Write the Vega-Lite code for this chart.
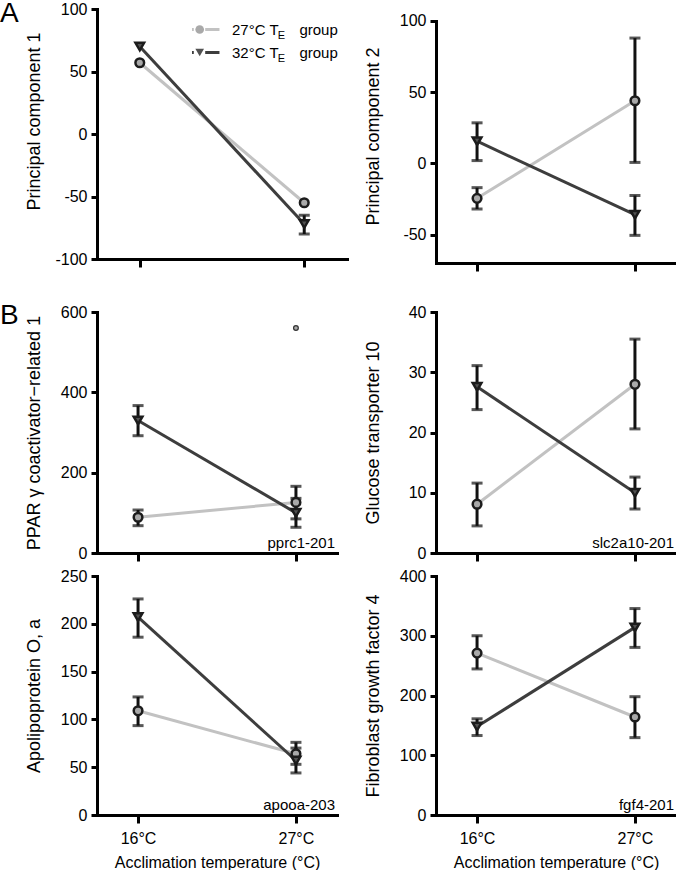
{
  "$schema": "https://vega.github.io/schema/vega-lite/v6.json",
  "background": "white",
  "padding": {"left": 0, "top": 0, "right": 0, "bottom": 0},
  "columns": 2,
  "spacing": {"row": 5, "column": 16},
  "bounds": "full",
  "config": {
    "view": {"stroke": null},
    "font": "Liberation Sans",
    "axis": {"domainColor": "#000", "domainWidth": 3, "domainCap": "square", "tickColor": "#000", "tickWidth": 3, "labelColor": "#000", "labelFontSize": 16, "labelFont": "Liberation Sans", "titleFont": "Liberation Sans", "titleColor": "#000", "titleFontWeight": "normal", "grid": false},
    "axisX": {"tickSize": 8, "titleFontSize": 16, "labelPadding": 7, "titlePadding": 8, "labelAngle": 0},
    "axisY": {"tickSize": 6, "labelPadding": 4, "titleFontSize": 18, "titleX": -54, "labelExpr": "replace(datum.label, '\u2212', '-')"},
    "title": {"fontSize": 28, "fontWeight": "normal", "anchor": "start", "frame": "group", "color": "#000", "offset": 0, "baseline": "alphabetic", "font": "Liberation Sans"}
  },
  "datasets": {
    "d": [
      {"p": "pc1", "g": "27°C TE group", "t": "16°C", "m": 57},
      {"p": "pc1", "g": "27°C TE group", "t": "27°C", "m": -55},
      {"p": "pc1", "g": "32°C TE group", "t": "16°C", "m": 70},
      {"p": "pc1", "g": "32°C TE group", "t": "27°C", "m": -72, "lo": -80, "hi": -65},
      {"p": "pc2", "g": "27°C TE group", "t": "16°C", "m": -24.5, "lo": -32, "hi": -17},
      {"p": "pc2", "g": "27°C TE group", "t": "27°C", "m": 44, "lo": 0.7, "hi": 88},
      {"p": "pc2", "g": "32°C TE group", "t": "16°C", "m": 15.6, "lo": 2, "hi": 28.5},
      {"p": "pc2", "g": "32°C TE group", "t": "27°C", "m": -36, "lo": -50.5, "hi": -22.5},
      {"p": "pprc1", "g": "27°C TE group", "t": "16°C", "m": 89, "lo": 68, "hi": 107},
      {"p": "pprc1", "g": "27°C TE group", "t": "27°C", "m": 126, "lo": 85, "hi": 166},
      {"p": "pprc1", "g": "32°C TE group", "t": "16°C", "m": 330, "lo": 292, "hi": 367},
      {"p": "pprc1", "g": "32°C TE group", "t": "27°C", "m": 100, "lo": 64, "hi": 136},
      {"p": "slc", "g": "27°C TE group", "t": "16°C", "m": 8.1, "lo": 4.5, "hi": 11.6},
      {"p": "slc", "g": "27°C TE group", "t": "27°C", "m": 28, "lo": 20.6, "hi": 35.5},
      {"p": "slc", "g": "32°C TE group", "t": "16°C", "m": 27.6, "lo": 23.8, "hi": 31.1},
      {"p": "slc", "g": "32°C TE group", "t": "27°C", "m": 10, "lo": 7.3, "hi": 12.6},
      {"p": "apooa", "g": "27°C TE group", "t": "16°C", "m": 109, "lo": 93.5, "hi": 123.5},
      {"p": "apooa", "g": "27°C TE group", "t": "27°C", "m": 64, "lo": 53, "hi": 76},
      {"p": "apooa", "g": "32°C TE group", "t": "16°C", "m": 207, "lo": 186, "hi": 226},
      {"p": "apooa", "g": "32°C TE group", "t": "27°C", "m": 57, "lo": 44, "hi": 70},
      {"p": "fgf4", "g": "27°C TE group", "t": "16°C", "m": 271, "lo": 244.5, "hi": 300},
      {"p": "fgf4", "g": "27°C TE group", "t": "27°C", "m": 164, "lo": 129.5, "hi": 198},
      {"p": "fgf4", "g": "32°C TE group", "t": "16°C", "m": 148, "lo": 133, "hi": 161},
      {"p": "fgf4", "g": "32°C TE group", "t": "27°C", "m": 314, "lo": 280.5, "hi": 345.5}
    ],
    "out": [
      {"p": "pprc1", "g": "27°C TE group", "t": "27°C", "m": 560}
    ]
  },
  "concat": [
    {
      "width": 250, "height": 250,
      "title": {"text": "A", "dx": -97, "dy": 31},
      "data": {"name": "d"},
      "encoding": {"x": {"field": "t", "type": "ordinal", "scale": {"type": "point", "domain": ["16°C", "27°C"], "padding": 0.26}, "axis": {"title": null, "labelColor": "transparent", "labelPadding": 10}}},
      "layer": [
        {"transform": [{"filter": "datum.p === 'pc1'"}], "mark": {"type": "line", "strokeWidth": 3},
         "encoding": {
           "y": {"field": "m", "type": "quantitative", "title": "Principal component 1", "scale": {"domain": [-100, 100], "nice": false, "zero": false}, "axis": {"values": [-100, -50, 0, 50, 100], "titleY": 112}},
           "stroke": {"field": "g", "type": "nominal", "scale": {"range": ["#c2c2c2", "#3d3d3d"]},
             "legend": {"orient": "none", "legendX": 95, "legendY": 9.3, "title": null, "symbolType": "M-3.33,0H-0.95M0.95,0H3.33", "symbolSize": 144, "symbolStrokeWidth": 3, "labelFontSize": 15, "labelColor": "#000", "labelFont": "Liberation Sans", "labelOffset": 25, "labelExpr": "replace(datum.label, 'TE', 'T\u00a0\u00a0\u00a0\u00a0')", "clipHeight": 22.4, "rowPadding": 0, "padding": 0}}}},
        {"transform": [{"filter": "datum.p === 'pc1' && isValid(datum.lo)"}], "mark": {"type": "rule", "strokeWidth": 3, "color": "#111"},
         "encoding": {"y": {"field": "lo", "type": "quantitative", "title": "Principal component 1", "scale": {"domain": [-100, 100], "nice": false, "zero": false}}, "y2": {"field": "hi"}}},
        {"transform": [{"filter": "datum.p === 'pc1' && isValid(datum.lo)"}], "mark": {"type": "tick", "orient": "horizontal", "size": 11, "thickness": 3, "color": "#111"},
         "encoding": {"y": {"field": "lo", "type": "quantitative", "title": "Principal component 1", "scale": {"domain": [-100, 100], "nice": false, "zero": false}}}},
        {"transform": [{"filter": "datum.p === 'pc1' && isValid(datum.lo)"}], "mark": {"type": "tick", "orient": "horizontal", "size": 11, "thickness": 3, "color": "#111"},
         "encoding": {"y": {"field": "hi", "type": "quantitative", "title": "Principal component 1", "scale": {"domain": [-100, 100], "nice": false, "zero": false}}}},
        {"transform": [{"filter": "datum.p === 'pc1'"}], "mark": {"type": "point", "filled": true, "size": 75, "stroke": "#1c1c1c", "strokeWidth": 2.5, "opacity": 1},
         "encoding": {
           "y": {"field": "m", "type": "quantitative", "title": "Principal component 1", "scale": {"domain": [-100, 100], "nice": false, "zero": false}},
           "shape": {"field": "g", "type": "nominal", "scale": {"domain": ["27°C TE group", "32°C TE group"], "range": ["circle", "triangle-down"]},
             "legend": {"orient": "none", "legendX": 96.7, "legendY": 9.3, "title": null, "symbolSize": 75, "symbolStrokeWidth": 2.5, "symbolStrokeColor": "#1c1c1c", "labelExpr": "'E'", "labelFontSize": 11, "labelColor": "#000", "labelFont": "Liberation Sans", "labelBaseline": "top", "labelOffset": 72, "clipHeight": 22.4, "rowPadding": 0, "padding": 0}},
           "fill": {"field": "g", "type": "nominal", "scale": {"domain": ["27°C TE group", "32°C TE group"], "range": ["#a9a9a9", "#525252"]}}}}
      ]
    },
    {
      "width": 240, "height": 254,
      "data": {"name": "d"},
      "encoding": {"x": {"field": "t", "type": "ordinal", "scale": {"type": "point", "domain": ["16°C", "27°C"], "padding": 0.26}, "axis": {"title": null, "labelColor": "transparent", "labelPadding": 10}}},
      "layer": [
        {"transform": [{"filter": "datum.p === 'pc2'"}], "mark": {"type": "line", "strokeWidth": 3},
         "encoding": {
           "y": {"field": "m", "type": "quantitative", "title": "Principal component 2", "scale": {"domain": [-69.9, 108.4], "nice": false, "zero": false}, "axis": {"values": [-50, 0, 50, 100], "domainDash": [242, 100]}},
           "stroke": {"field": "g", "type": "nominal", "legend": null}}},
        {"transform": [{"filter": "datum.p === 'pc2' && isValid(datum.lo)"}], "mark": {"type": "rule", "strokeWidth": 3, "color": "#111"},
         "encoding": {"y": {"field": "lo", "type": "quantitative", "title": "Principal component 2", "scale": {"domain": [-69.9, 108.4], "nice": false, "zero": false}}, "y2": {"field": "hi"}}},
        {"transform": [{"filter": "datum.p === 'pc2' && isValid(datum.lo)"}], "mark": {"type": "tick", "orient": "horizontal", "size": 11, "thickness": 3, "color": "#111"},
         "encoding": {"y": {"field": "lo", "type": "quantitative", "title": "Principal component 2", "scale": {"domain": [-69.9, 108.4], "nice": false, "zero": false}}}},
        {"transform": [{"filter": "datum.p === 'pc2' && isValid(datum.lo)"}], "mark": {"type": "tick", "orient": "horizontal", "size": 11, "thickness": 3, "color": "#111"},
         "encoding": {"y": {"field": "hi", "type": "quantitative", "title": "Principal component 2", "scale": {"domain": [-69.9, 108.4], "nice": false, "zero": false}}}},
        {"transform": [{"filter": "datum.p === 'pc2'"}], "mark": {"type": "point", "filled": true, "size": 75, "stroke": "#1c1c1c", "strokeWidth": 2.5, "opacity": 1},
         "encoding": {
           "y": {"field": "m", "type": "quantitative", "title": "Principal component 2", "scale": {"domain": [-69.9, 108.4], "nice": false, "zero": false}},
           "shape": {"field": "g", "type": "nominal", "legend": null},
           "fill": {"field": "g", "type": "nominal", "legend": null}}}
      ]
    },
    {
      "width": 240, "height": 241,
      "title": {"text": "B", "dx": -97, "dy": 30},
      "data": {"name": "d"},
      "encoding": {"x": {"field": "t", "type": "ordinal", "scale": {"type": "point", "domain": ["16°C", "27°C"], "padding": 0.26}, "axis": {"title": null, "labels": false}}},
      "layer": [
        {"transform": [{"filter": "datum.p === 'pprc1'"}], "mark": {"type": "line", "strokeWidth": 3},
         "encoding": {
           "y": {"field": "m", "type": "quantitative", "title": "PPAR γ coactivator−related 1", "scale": {"domain": [0, 600], "nice": false}, "axis": {"values": [0, 200, 400, 600]}},
           "stroke": {"field": "g", "type": "nominal", "legend": null}}},
        {"transform": [{"filter": "datum.p === 'pprc1' && isValid(datum.lo)"}], "mark": {"type": "rule", "strokeWidth": 3, "color": "#111"},
         "encoding": {"y": {"field": "lo", "type": "quantitative", "title": "PPAR γ coactivator−related 1", "scale": {"domain": [0, 600], "nice": false}}, "y2": {"field": "hi"}}},
        {"transform": [{"filter": "datum.p === 'pprc1' && isValid(datum.lo)"}], "mark": {"type": "tick", "orient": "horizontal", "size": 11, "thickness": 3, "color": "#111"},
         "encoding": {"y": {"field": "lo", "type": "quantitative", "title": "PPAR γ coactivator−related 1", "scale": {"domain": [0, 600], "nice": false}}}},
        {"transform": [{"filter": "datum.p === 'pprc1' && isValid(datum.lo)"}], "mark": {"type": "tick", "orient": "horizontal", "size": 11, "thickness": 3, "color": "#111"},
         "encoding": {"y": {"field": "hi", "type": "quantitative", "title": "PPAR γ coactivator−related 1", "scale": {"domain": [0, 600], "nice": false}}}},
        {"transform": [{"filter": "datum.p === 'pprc1'"}], "mark": {"type": "point", "filled": true, "size": 75, "stroke": "#1c1c1c", "strokeWidth": 2.5, "opacity": 1},
         "encoding": {
           "y": {"field": "m", "type": "quantitative", "title": "PPAR γ coactivator−related 1", "scale": {"domain": [0, 600], "nice": false}},
           "shape": {"field": "g", "type": "nominal", "legend": null},
           "fill": {"field": "g", "type": "nominal", "legend": null}}},
        {"data": {"name": "out"}, "mark": {"type": "point", "filled": true, "size": 22, "fill": "#a9a9a9", "stroke": "#333", "strokeWidth": 1.3, "opacity": 1},
         "encoding": {"y": {"field": "m", "type": "quantitative", "title": "PPAR γ coactivator−related 1", "scale": {"domain": [0, 600], "nice": false}}}},
        {"data": {"values": [{"label": "pprc1-201"}]}, "mark": {"type": "text", "align": "right", "baseline": "alphabetic", "fontSize": 15, "dx": -2, "dy": -5, "color": "#000"},
         "encoding": {"text": {"field": "label"}, "x": {"value": "width"}, "y": {"value": "height"}}}
      ]
    },
    {
      "width": 240, "height": 241,
      "data": {"name": "d"},
      "encoding": {"x": {"field": "t", "type": "ordinal", "scale": {"type": "point", "domain": ["16°C", "27°C"], "padding": 0.26}, "axis": {"title": null, "labels": false}}},
      "layer": [
        {"transform": [{"filter": "datum.p === 'slc'"}], "mark": {"type": "line", "strokeWidth": 3},
         "encoding": {
           "y": {"field": "m", "type": "quantitative", "title": "Glucose transporter 10", "scale": {"domain": [0, 40], "nice": false}, "axis": {"values": [0, 10, 20, 30, 40]}},
           "stroke": {"field": "g", "type": "nominal", "legend": null}}},
        {"transform": [{"filter": "datum.p === 'slc' && isValid(datum.lo)"}], "mark": {"type": "rule", "strokeWidth": 3, "color": "#111"},
         "encoding": {"y": {"field": "lo", "type": "quantitative", "title": "Glucose transporter 10", "scale": {"domain": [0, 40], "nice": false}}, "y2": {"field": "hi"}}},
        {"transform": [{"filter": "datum.p === 'slc' && isValid(datum.lo)"}], "mark": {"type": "tick", "orient": "horizontal", "size": 11, "thickness": 3, "color": "#111"},
         "encoding": {"y": {"field": "lo", "type": "quantitative", "title": "Glucose transporter 10", "scale": {"domain": [0, 40], "nice": false}}}},
        {"transform": [{"filter": "datum.p === 'slc' && isValid(datum.lo)"}], "mark": {"type": "tick", "orient": "horizontal", "size": 11, "thickness": 3, "color": "#111"},
         "encoding": {"y": {"field": "hi", "type": "quantitative", "title": "Glucose transporter 10", "scale": {"domain": [0, 40], "nice": false}}}},
        {"transform": [{"filter": "datum.p === 'slc'"}], "mark": {"type": "point", "filled": true, "size": 75, "stroke": "#1c1c1c", "strokeWidth": 2.5, "opacity": 1},
         "encoding": {
           "y": {"field": "m", "type": "quantitative", "title": "Glucose transporter 10", "scale": {"domain": [0, 40], "nice": false}},
           "shape": {"field": "g", "type": "nominal", "legend": null},
           "fill": {"field": "g", "type": "nominal", "legend": null}}},
        {"data": {"values": [{"label": "slc2a10-201"}]}, "mark": {"type": "text", "align": "right", "baseline": "alphabetic", "fontSize": 15, "dx": -2, "dy": -5, "color": "#000"},
         "encoding": {"text": {"field": "label"}, "x": {"value": "width"}, "y": {"value": "height"}}}
      ]
    },
    {
      "width": 240, "height": 239,
      "data": {"name": "d"},
      "encoding": {"x": {"field": "t", "type": "ordinal", "scale": {"type": "point", "domain": ["16°C", "27°C"], "padding": 0.26}, "axis": {"title": "Acclimation temperature (°C)"}}},
      "layer": [
        {"transform": [{"filter": "datum.p === 'apooa'"}], "mark": {"type": "line", "strokeWidth": 3},
         "encoding": {
           "y": {"field": "m", "type": "quantitative", "title": "Apolipoprotein O, a", "scale": {"domain": [0, 250], "nice": false}, "axis": {"values": [0, 50, 100, 150, 200, 250]}},
           "stroke": {"field": "g", "type": "nominal", "legend": null}}},
        {"transform": [{"filter": "datum.p === 'apooa' && isValid(datum.lo)"}], "mark": {"type": "rule", "strokeWidth": 3, "color": "#111"},
         "encoding": {"y": {"field": "lo", "type": "quantitative", "title": "Apolipoprotein O, a", "scale": {"domain": [0, 250], "nice": false}}, "y2": {"field": "hi"}}},
        {"transform": [{"filter": "datum.p === 'apooa' && isValid(datum.lo)"}], "mark": {"type": "tick", "orient": "horizontal", "size": 11, "thickness": 3, "color": "#111"},
         "encoding": {"y": {"field": "lo", "type": "quantitative", "title": "Apolipoprotein O, a", "scale": {"domain": [0, 250], "nice": false}}}},
        {"transform": [{"filter": "datum.p === 'apooa' && isValid(datum.lo)"}], "mark": {"type": "tick", "orient": "horizontal", "size": 11, "thickness": 3, "color": "#111"},
         "encoding": {"y": {"field": "hi", "type": "quantitative", "title": "Apolipoprotein O, a", "scale": {"domain": [0, 250], "nice": false}}}},
        {"transform": [{"filter": "datum.p === 'apooa'"}], "mark": {"type": "point", "filled": true, "size": 75, "stroke": "#1c1c1c", "strokeWidth": 2.5, "opacity": 1},
         "encoding": {
           "y": {"field": "m", "type": "quantitative", "title": "Apolipoprotein O, a", "scale": {"domain": [0, 250], "nice": false}},
           "shape": {"field": "g", "type": "nominal", "legend": null},
           "fill": {"field": "g", "type": "nominal", "legend": null}}},
        {"data": {"values": [{"label": "apooa-203"}]}, "mark": {"type": "text", "align": "right", "baseline": "alphabetic", "fontSize": 15, "dx": -2, "dy": -5, "color": "#000"},
         "encoding": {"text": {"field": "label"}, "x": {"value": "width"}, "y": {"value": "height"}}}
      ]
    },
    {
      "width": 240, "height": 239,
      "data": {"name": "d"},
      "encoding": {"x": {"field": "t", "type": "ordinal", "scale": {"type": "point", "domain": ["16°C", "27°C"], "padding": 0.26}, "axis": {"title": "Acclimation temperature (°C)"}}},
      "layer": [
        {"transform": [{"filter": "datum.p === 'fgf4'"}], "mark": {"type": "line", "strokeWidth": 3},
         "encoding": {
           "y": {"field": "m", "type": "quantitative", "title": "Fibroblast growth factor 4", "scale": {"domain": [0, 400], "nice": false}, "axis": {"values": [0, 100, 200, 300, 400]}},
           "stroke": {"field": "g", "type": "nominal", "legend": null}}},
        {"transform": [{"filter": "datum.p === 'fgf4' && isValid(datum.lo)"}], "mark": {"type": "rule", "strokeWidth": 3, "color": "#111"},
         "encoding": {"y": {"field": "lo", "type": "quantitative", "title": "Fibroblast growth factor 4", "scale": {"domain": [0, 400], "nice": false}}, "y2": {"field": "hi"}}},
        {"transform": [{"filter": "datum.p === 'fgf4' && isValid(datum.lo)"}], "mark": {"type": "tick", "orient": "horizontal", "size": 11, "thickness": 3, "color": "#111"},
         "encoding": {"y": {"field": "lo", "type": "quantitative", "title": "Fibroblast growth factor 4", "scale": {"domain": [0, 400], "nice": false}}}},
        {"transform": [{"filter": "datum.p === 'fgf4' && isValid(datum.lo)"}], "mark": {"type": "tick", "orient": "horizontal", "size": 11, "thickness": 3, "color": "#111"},
         "encoding": {"y": {"field": "hi", "type": "quantitative", "title": "Fibroblast growth factor 4", "scale": {"domain": [0, 400], "nice": false}}}},
        {"transform": [{"filter": "datum.p === 'fgf4'"}], "mark": {"type": "point", "filled": true, "size": 75, "stroke": "#1c1c1c", "strokeWidth": 2.5, "opacity": 1},
         "encoding": {
           "y": {"field": "m", "type": "quantitative", "title": "Fibroblast growth factor 4", "scale": {"domain": [0, 400], "nice": false}},
           "shape": {"field": "g", "type": "nominal", "legend": null},
           "fill": {"field": "g", "type": "nominal", "legend": null}}},
        {"data": {"values": [{"label": "fgf4-201"}]}, "mark": {"type": "text", "align": "right", "baseline": "alphabetic", "fontSize": 15, "dx": -2, "dy": -5, "color": "#000"},
         "encoding": {"text": {"field": "label"}, "x": {"value": "width"}, "y": {"value": "height"}}}
      ]
    }
  ]
}
